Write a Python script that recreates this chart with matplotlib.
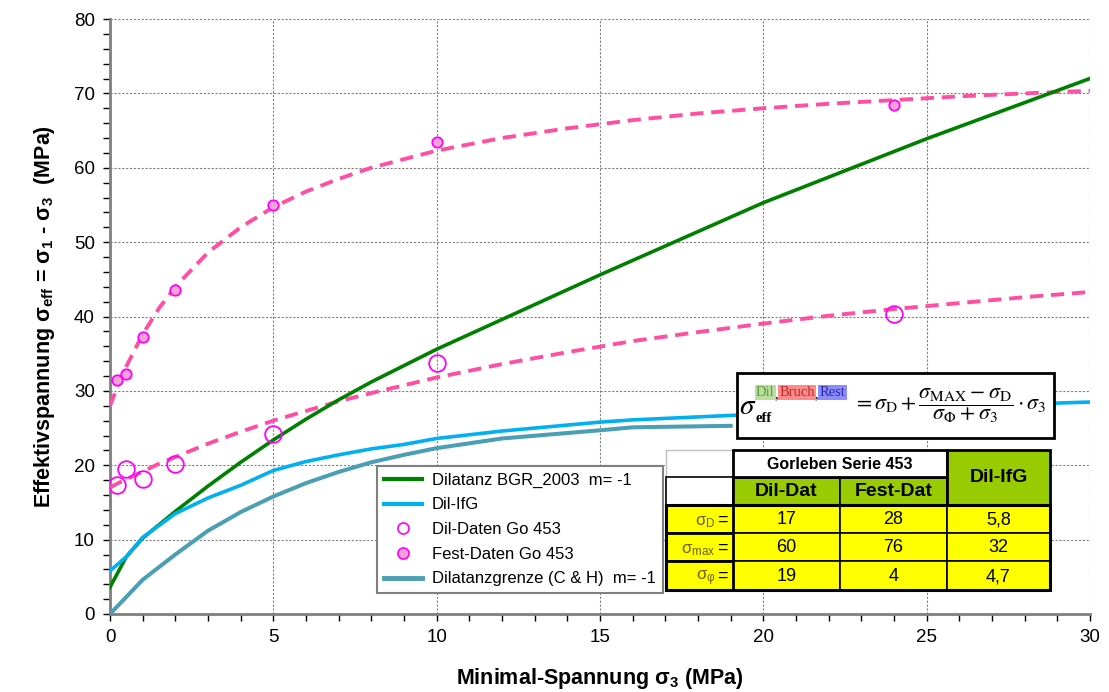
import matplotlib
matplotlib.use("Agg")
import matplotlib.pyplot as plt
from matplotlib.patches import Rectangle
from matplotlib.lines import Line2D
from matplotlib.ticker import MultipleLocator

plt.rcParams['font.family'] = ['Liberation Sans', 'DejaVu Sans']
plt.rcParams['mathtext.fontset'] = 'custom'
plt.rcParams['mathtext.rm'] = 'Liberation Sans'
plt.rcParams['mathtext.bf'] = 'Liberation Sans:bold'
plt.rcParams['mathtext.it'] = 'Liberation Sans:italic'

# Messdaten Gorleben Serie 453
s3_data = [0.2, 0.5, 1, 2, 5, 10, 24]
dil_data = [17.3, 19.5, 18.2, 20.2, 24.2, 33.8, 40.3]
fest_data = [31.5, 32.3, 37.2, 43.6, 55.0, 63.5, 68.5]

# Dilatanz BGR_2003 (m = -1)
s3_bgr = [0, 0.5, 1, 2, 3, 4, 5, 6, 7, 8, 10, 12, 15, 20, 25, 30]
eff_bgr = [3.6, 7.7, 10.2, 13.8, 17.2, 20.4, 23.4, 26.2, 28.8, 31.2, 35.6, 39.6,
           45.6, 55.3, 63.9, 72.0]

# Dil-IfG
s3_ifg = [0, 0.5, 1, 2, 3, 4, 5, 6, 7, 8, 9, 10, 12, 15, 16, 20, 25, 30]
eff_ifg = [5.8, 7.7, 10.3, 13.5, 15.6, 17.3, 19.3, 20.5, 21.4, 22.2, 22.8, 23.6,
           24.6, 25.8, 26.1, 26.9, 27.8, 28.5]

# Dilatanzgrenze (C & H)
s3_ch = [0, 1, 2, 3, 4, 5, 6, 7, 8, 9, 10, 12, 15, 16, 19]
eff_ch = [0, 4.6, 8.0, 11.2, 13.7, 15.8, 17.6, 19.1, 20.4, 21.4, 22.3, 23.6,
          24.7, 25.1, 25.3]

# Anpassungen an Dil- und Fest-Daten
s3_fit = [0, 0.25, 0.5, 1, 1.5, 2, 3, 4, 5, 6, 7, 8, 10, 12, 14, 16, 18, 20,
          22, 24, 26, 28, 30]
fest_fit = [28.0, 30.8, 33.3, 37.6, 41.1, 44.0, 48.6, 52.0, 54.7, 56.8, 58.5,
            60.0, 62.3, 64.0, 65.3, 66.4, 67.3, 68.0, 68.6, 69.1, 69.6, 70.0, 70.35]
dil_fit = [17.0, 17.6, 18.1, 19.15, 20.2, 21.1, 22.9, 24.5, 26.0, 27.3, 28.6,
           29.7, 31.8, 33.6, 35.2, 36.7, 37.9, 39.05, 40.1, 41.0, 41.8, 42.6, 43.3]

# Parametertabelle
tab_cols = ['Dil-Dat', 'Fest-Dat', 'Dil-IfG']
tab_rows = ['σ$_{\\mathrm{D}}$', 'σ$_{\\mathrm{max}}$', 'σ$_{\\mathrm{φ}}$']
tab_vals = [['17', '28', '5,8'],
            ['60', '76', '32'],
            ['19', '4', '4,7']]

W, H = 1109, 692
fig = plt.figure(figsize=(W / 100, H / 100), dpi=100)
ax = fig.add_axes([110 / W, (H - 614) / H, 980 / W, 595 / H])

pink = '#FF4FA3'
ax.plot(s3_fit, fest_fit, color=pink, lw=2.8, dashes=(3.4, 2.0), zorder=3)
ax.plot(s3_fit, dil_fit, color=pink, lw=2.8, dashes=(3.4, 2.0), zorder=3)
ax.plot(s3_bgr, eff_bgr, color='#008000', lw=2.6, zorder=3)
ax.plot(s3_ifg, eff_ifg, color='#00B0F0', lw=2.6, zorder=3)
ax.plot(s3_ch, eff_ch, color='#4A9FB5', lw=2.9, zorder=3)
ax.plot(s3_data, dil_data, 'o', ms=12, mfc='none', mec='#FF00FF', mew=1.3, zorder=4)
ax.plot(s3_data, fest_data, 'o', ms=7.5, mfc='#F4A3D5', mec='#FF00FF', mew=1.3, zorder=4)

ax.set_xlim(0, 30)
ax.set_ylim(0, 80)
ax.xaxis.set_major_locator(MultipleLocator(5))
ax.xaxis.set_minor_locator(MultipleLocator(1))
ax.yaxis.set_major_locator(MultipleLocator(10))
ax.yaxis.set_minor_locator(MultipleLocator(2))
ax.grid(True, which='major', color='#808080', lw=0.8, linestyle=(0, (2, 1.5)))
ax.tick_params(which='both', direction='out', length=5, width=1, color='black',
               labelsize=13.5, pad=6)
for s in ['top', 'right']:
    ax.spines[s].set_visible(False)
for s in ['left', 'bottom']:
    ax.spines[s].set_color('#7F7F7F')
    ax.spines[s].set_linewidth(2)

ax.set_xlabel('Minimal-Spannung σ$_\\mathbf{3}$ (MPa)', fontsize=15.5,
              fontweight='bold', labelpad=14)
ax.set_ylabel('Effektivspannung σ$_\\mathbf{eff}$ = σ$_\\mathbf{1}$ - σ$_\\mathbf{3}$  (MPa)',
              fontsize=15.5, fontweight='bold', labelpad=12)

handles = [
    Line2D([], [], color='#008000', lw=3),
    Line2D([], [], color='#00B0F0', lw=3),
    Line2D([], [], ls='none', marker='o', ms=8, mfc='none', mec='#FF00FF', mew=1.2),
    Line2D([], [], ls='none', marker='o', ms=8, mfc='#F4A3D5', mec='#FF00FF', mew=1.2),
    Line2D([], [], color='#4A9FB5', lw=3.5),
]
labels = ['Dilatanz BGR_2003  m= -1', 'Dil-IfG', 'Dil-Daten Go 453',
          'Fest-Daten Go 453', 'Dilatanzgrenze (C & H)  m= -1']
leg = ax.legend(handles, labels, loc='upper left',
                bbox_to_anchor=((377 - 110) / 980, (614 - 466) / 595),
                fontsize=12, fancybox=False, framealpha=1, edgecolor='#808080',
                handlelength=2.3, handletextpad=0.6, labelspacing=0.58,
                borderpad=0.4, borderaxespad=0)
leg.get_frame().set_linewidth(1.5)
leg.set_zorder(6)


def fx(x):
    return x / W


def fy(y):
    return 1 - y / H


def cell(x0, y0, x1, y1, fc, ec='black', lw=1.2):
    fig.add_artist(Rectangle((fx(x0), fy(y1)), fx(x1) - fx(x0), fy(y0) - fy(y1),
                             transform=fig.transFigure, fc=fc, ec=ec, lw=lw, zorder=5))


def ftext(x, y, s, **kw):
    return fig.text(fx(x), fy(y), s, zorder=7, **kw)


# Formel
cell(737, 373, 1054, 438, 'white', lw=2)
ftext(739, 414, r'$\sigma$', fontsize=21, math_fontfamily='stix', va='baseline')
ftext(756, 422, 'eff', fontsize=10.5, family='Liberation Serif', fontweight='bold',
      va='baseline')
renderer = fig.canvas.get_renderer()
sup = [('Dil', '#5E9E3E', '#B9DE9E'), ('Bruch', '#C0282C', '#FF8A8A'),
       ('Rest', '#2A2AA0', '#8C8CFF')]
xpos = 756
for k, (word, col, bg) in enumerate(sup):
    t = ftext(xpos, 396, word, fontsize=10.5, family='Liberation Serif', color=col,
              va='baseline',
              bbox=dict(boxstyle='square,pad=0.1', fc=bg, ec='none'))
    xpos = t.get_window_extent(renderer).x1
    if k < len(sup) - 1:
        c = ftext(xpos, 398, ',', fontsize=10.5, family='Liberation Serif',
                  va='baseline')
        xpos = c.get_window_extent(renderer).x1 + 1
ftext(853, 406, r'$=\sigma_{\mathrm{D}}+\dfrac{\sigma_{\mathrm{MAX}}-\sigma_{\mathrm{D}}}'
      r'{\sigma_{\Phi}+\sigma_{3}}\cdot\sigma_{3}$', fontsize=15.8,
      math_fontfamily='stix', va='center', ha='left')

# Tabelle
xs = [666, 733, 840, 947, 1050]
ys = [450, 477, 505, 533, 561, 590]
green = '#99CC00'
yellow = '#FFFF00'
cell(xs[0], ys[0], xs[1], ys[1], 'white', ec='#C0C0C0', lw=1)
cell(xs[0], ys[1], xs[1], ys[2], 'white')
for j in range(2):
    cell(xs[1 + j], ys[1], xs[2 + j], ys[2], green)
cell(xs[1], ys[1], xs[3], ys[2], 'none', lw=2)
cell(xs[1], ys[0], xs[3], ys[1], 'white', lw=2)
cell(xs[3], ys[0], xs[4], ys[2], green, lw=2)
for i in range(3):
    for j in range(3):
        cell(xs[1 + j], ys[2 + i], xs[2 + j], ys[3 + i], yellow)
    cell(xs[0], ys[2 + i], xs[1], ys[3 + i], yellow, lw=2)
cell(xs[0], ys[2], xs[4], ys[5], 'none', lw=2.2)

ftext((xs[1] + xs[3]) / 2, (ys[0] + ys[1]) / 2 + 1, 'Gorleben Serie 453',
      fontsize=11.5, fontweight='bold', ha='center', va='center')
for j in range(2):
    ftext((xs[1 + j] + xs[2 + j]) / 2, (ys[1] + ys[2]) / 2 + 1, tab_cols[j],
          fontsize=14, fontweight='bold', ha='center', va='center')
ftext((xs[3] + xs[4]) / 2, (ys[0] + ys[2]) / 2, tab_cols[2],
      fontsize=14, fontweight='bold', ha='center', va='center')
for i in range(3):
    yc = (ys[2 + i] + ys[3 + i]) / 2 + 1
    ftext(xs[1] - 5, yc, '=', fontsize=13, ha='right', va='center')
    ftext(xs[1] - 18, yc + 2, tab_rows[i], fontsize=12, color='#6E6000',
          ha='right', va='center')
    for j in range(3):
        ftext((xs[1 + j] + xs[2 + j]) / 2, yc, tab_vals[i][j], fontsize=13,
              ha='center', va='center')

fig.savefig('out.png', dpi=100)
